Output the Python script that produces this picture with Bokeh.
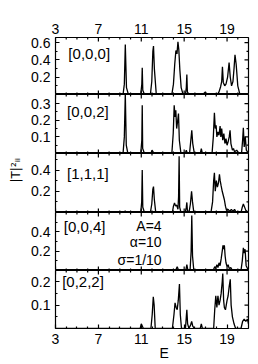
import math
from bokeh.plotting import figure
from bokeh.layouts import column
from bokeh.models import Range1d, LinearAxis, FixedTicker, Label, Title
from bokeh.embed import file_html
from bokeh.resources import INLINE

# ---------------- data ----------------
x_ticks = [3, 7, 11, 15, 19]
x_minor = [4, 5, 6, 8, 9, 10, 12, 13, 14, 16, 17, 18, 20]

panel_labels = ["[0,0,0]", "[0,0,2]", "[1,1,1]", "[0,0,4]", "[0,2,2]"]

p000 = [(3.0, 0), (9.3, 0), (9.42, 0.12), (9.51, 0.58), (9.62, 0.08), (9.8, 0),
        (10.95, 0), (11.05, 0.12), (11.09, 0.31), (11.14, 0.05), (11.3, 0),
        (11.85, 0), (11.98, 0.15), (12.08, 0.5), (12.14, 0.56), (12.22, 0.3), (12.4, 0),
        (13.85, 0), (14.0, 0.12), (14.12, 0.35), (14.23, 0.51), (14.33, 0.47), (14.42, 0.61),
        (14.5, 0.52), (14.6, 0.28), (14.72, 0.08), (14.9, 0),
        (15.12, 0), (15.2, 0.08), (15.25, 0.23), (15.3, 0.03), (15.45, 0),
        (16.75, 0), (16.9, 0.02), (16.98, 0.03), (17.1, 0),
        (18.1, 0), (18.25, 0.03), (18.4, 0.09), (18.5, 0.15), (18.57, 0.32), (18.65, 0.14),
        (18.78, 0.1), (18.9, 0.12), (19.05, 0.2), (19.19, 0.37), (19.3, 0.2), (19.42, 0.1),
        (19.55, 0.15), (19.65, 0.3), (19.74, 0.46), (19.85, 0.35), (20.0, 0.1), (20.2, 0), (21.0, 0)]

p002 = [(3.0, 0), (9.3, 0), (9.42, 0.1), (9.51, 0.36), (9.6, 0.05), (9.75, 0),
        (10.95, 0), (11.05, 0.08), (11.09, 0.29), (11.13, 0.03), (11.3, 0),
        (11.9, 0), (12.0, 0.02), (12.1, 0.01), (12.2, 0),
        (13.85, 0), (13.98, 0.12), (14.07, 0.29), (14.15, 0.22), (14.22, 0.26), (14.3, 0.15),
        (14.4, 0.2), (14.47, 0.24), (14.55, 0.08), (14.7, 0),
        (15.1, 0), (15.2, 0.02), (15.3, 0), (15.5, 0), (15.62, 0.08), (15.71, 0.14),
        (15.8, 0.06), (15.95, 0), (16.5, 0), (16.6, 0.03), (16.7, 0),
        (17.6, 0), (17.72, 0.1), (17.82, 0.245), (17.9, 0.15), (17.98, 0.17), (18.05, 0.1),
        (18.15, 0.13), (18.25, 0.11), (18.35, 0.165), (18.42, 0.1), (18.5, 0.15), (18.6, 0.08),
        (18.7, 0.12), (18.8, 0.06), (18.9, 0.09), (19.0, 0.05), (19.1, 0.07), (19.2, 0.1),
        (19.28, 0.14), (19.36, 0.06), (19.5, 0.02), (19.6, 0.03), (19.7, 0.01), (19.9, 0.02),
        (20.1, 0), (20.35, 0), (20.45, 0.08), (20.52, 0.155), (20.6, 0.04), (20.7, 0.1),
        (20.8, 0.02), (21.0, 0)]

p111 = [(3.0, 0), (9.4, 0), (9.5, 0.015), (9.6, 0),
        (10.95, 0), (11.04, 0.1), (11.09, 0.4), (11.14, 0.05), (11.3, 0),
        (11.85, 0), (11.98, 0.08), (12.08, 0.22), (12.14, 0.244), (12.22, 0.12), (12.35, 0),
        (13.9, 0), (14.0, 0.06), (14.1, 0.09), (14.2, 0.06), (14.3, 0.07), (14.42, 0.03),
        (14.48, 0.15), (14.53, 0.53), (14.58, 0.05), (14.7, 0),
        (15.1, 0), (15.2, 0.05), (15.25, 0.095), (15.3, 0.02), (15.45, 0),
        (15.58, 0.08), (15.69, 0.2), (15.78, 0.1), (15.9, 0),
        (17.5, 0), (17.65, 0.1), (17.75, 0.3), (17.82, 0.375), (17.9, 0.2), (18.0, 0.3),
        (18.1, 0.24), (18.2, 0.28), (18.29, 0.36), (18.36, 0.3), (18.45, 0.25), (18.55, 0.2),
        (18.65, 0.16), (18.75, 0.12), (18.85, 0.06), (18.95, 0.02), (19.1, 0.03), (19.25, 0.01),
        (19.4, 0.03), (19.55, 0.01), (19.7, 0.03), (19.85, 0),
        (20.3, 0), (20.42, 0.05), (20.52, 0.08), (20.6, 0.06), (20.75, 0.02), (21.0, 0)]

p004 = [(3.0, 0), (14.2, 0), (14.35, 0.04), (14.45, 0.01), (14.6, 0),
        (15.15, 0), (15.25, 0.06), (15.35, 0), (15.55, 0), (15.65, 0.2), (15.71, 0.57),
        (15.78, 0.15), (15.9, 0),
        (17.7, 0), (17.85, 0.04), (17.95, 0.02), (18.05, 0.06), (18.15, 0.03), (18.25, 0.08),
        (18.35, 0.05), (18.45, 0.12), (18.55, 0.2), (18.62, 0.26), (18.7, 0.22), (18.75, 0.26),
        (18.82, 0.15), (18.9, 0.08), (19.0, 0.04), (19.1, 0.06), (19.2, 0.02), (19.35, 0.03),
        (19.5, 0), (20.3, 0), (20.42, 0.1), (20.52, 0.235), (20.6, 0.18), (20.68, 0.22),
        (20.78, 0.05), (21.0, 0)]

p022 = [(3.0, 0), (10.9, 0), (11.0, 0.02), (11.1, 0.01), (11.2, 0),
        (11.9, 0), (12.02, 0.06), (12.12, 0.136), (12.2, 0.1), (12.3, 0),
        (13.9, 0), (14.05, 0.06), (14.15, 0.11), (14.25, 0.09), (14.35, 0.08), (14.45, 0.12),
        (14.56, 0.19), (14.64, 0.06), (14.75, 0),
        (15.12, 0), (15.2, 0.05), (15.25, 0.08), (15.32, 0.02), (15.45, 0),
        (15.6, 0.015), (15.7, 0.03), (15.8, 0.01), (15.95, 0), (16.5, 0), (16.6, 0.02), (16.7, 0),
        (17.75, 0), (17.85, 0.08), (17.95, 0.14), (18.05, 0.09), (18.15, 0.14), (18.25, 0.1),
        (18.35, 0.12), (18.45, 0.15), (18.55, 0.2), (18.6, 0.235), (18.68, 0.12), (18.75, 0.09),
        (18.85, 0.08), (19.0, 0.12), (19.1, 0.14), (19.2, 0.18), (19.3, 0.21), (19.38, 0.1),
        (19.5, 0.05), (19.65, 0.02), (19.8, 0), (20.3, 0), (20.45, 0.03), (20.6, 0.04),
        (20.75, 0.03), (20.9, 0.04), (21.0, 0.02)]

series = [p000, p002, p111, p004, p022]

y_ranges = [(0, 0.66), (0, 0.355), (0, 0.556), (0, 0.6), (0, 0.248)]
y_ticks = [[0.2, 0.4, 0.6], [0.1, 0.2, 0.3], [0.2, 0.4], [0.2, 0.4], [0.1, 0.2]]
y_minor = [[0.1, 0.3, 0.5], [0.05, 0.15, 0.25], [0.1, 0.3, 0.5], [0.1, 0.3, 0.5], [0.05, 0.15]]
label_pos = [(4.2, 0.48), (4.08, 0.25), (4.08, 0.37), (3.77, 0.46), (3.62, 0.2)]
params = ["A=4", "\u03b1=10", "\u03c3=1/10"]
params_y = [0.46, 0.29, 0.11]
y_title = "|T|\u00b2\u1d62\u1d62"
x_title = "E"

# ---------------- layout ----------------
FONT = "Liberation Sans"
FS = "14px"
heights = [94, 59, 59, 58, 92]
tops = [37, 0, 0, 0, 0]
bottoms = [0, 0, 0, 0, 34]

xr = Range1d(3, 21)


def style_axis(ax, standoff=5, ticks=True):
    ax.axis_line_color = None
    ax.major_tick_in = 4 if ticks else 0
    ax.major_tick_out = 0
    ax.minor_tick_in = 2 if ticks else 0
    ax.minor_tick_out = 0
    ax.major_tick_line_color = "black" if ticks else None
    ax.minor_tick_line_color = "black" if ticks else None
    ax.major_tick_line_width = 1.2
    ax.minor_tick_line_width = 1.2
    ax.major_label_text_font = FONT
    ax.major_label_text_font_size = FS
    ax.major_label_text_color = "black"
    ax.major_label_standoff = standoff


def mirror_ticks(p, xs, ys, size, angle):
    p.scatter(xs, ys, marker="dash", size=size, angle=angle,
              line_color="black", line_width=1.2)


figs = []
for i in range(5):
    y0, y1 = y_ranges[i]
    p = figure(width=258, height=heights[i], x_range=xr, y_range=Range1d(y0, y1),
               output_backend="svg", toolbar_location=None, title_location=None,
               x_axis_location=None, y_axis_location=None,
               min_border_left=55, min_border_right=10,
               min_border_top=tops[i], min_border_bottom=bottoms[i])
    p.grid.visible = False
    p.outline_line_color = "black"
    p.outline_line_width = 1.2
    p.background_fill_color = "white"
    p.border_fill_color = "white"

    xt = FixedTicker(ticks=x_ticks, minor_ticks=x_minor)
    yt = FixedTicker(ticks=y_ticks[i], minor_ticks=y_minor[i])

    left = LinearAxis(ticker=yt)
    style_axis(left)
    p.add_layout(left, "left")

    # mirrored ticks on the right and top
    mirror_ticks(p, [21] * len(y_ticks[i]), y_ticks[i], 8, 0)
    mirror_ticks(p, [21] * len(y_minor[i]), y_minor[i], 4, 0)
    mirror_ticks(p, x_ticks, [y1] * len(x_ticks), 8, math.pi / 2)
    mirror_ticks(p, x_minor, [y1] * len(x_minor), 4, math.pi / 2)

    if i == 0:
        above = LinearAxis(ticker=xt)
        style_axis(above, standoff=4, ticks=False)
        p.add_layout(above, "above")
    if i == 4:
        below = LinearAxis(ticker=xt)
        style_axis(below)
        p.add_layout(below, "below")
        p.add_layout(Title(text=x_title, align="left", offset=104, standoff=-8,
                           text_font=FONT, text_font_size="14px", text_font_style="normal",
                           text_color="black"), "below")
    else:
        mirror_ticks(p, x_ticks, [y0] * len(x_ticks), 8, math.pi / 2)
        mirror_ticks(p, x_minor, [y0] * len(x_minor), 4, math.pi / 2)

    if i == 2:
        p.add_layout(Title(text=y_title, align="left", offset=30, standoff=11,
                           text_font="DejaVu Sans", text_font_size="12px",
                           text_font_style="normal", text_color="black"), "left")

    es = [pt[0] for pt in series[i]]
    ts = [pt[1] for pt in series[i]]
    p.line(es, ts, line_color="black", line_width=1.3)

    lx, ly = label_pos[i]
    p.add_layout(Label(x=lx, y=ly, text=panel_labels[i], text_font=FONT, text_font_size="15px",
                       text_baseline="middle", text_align="left", text_color="black"))
    if i == 3:
        for t, yy in zip(params, params_y):
            p.add_layout(Label(x=12.9, y=yy, text=t, text_font=FONT, text_font_size=FS,
                               text_baseline="middle", text_align="right", text_color="black"))
    figs.append(p)

layout = column(*figs, spacing=0)

open("out.html", "w").write(file_html(layout, INLINE))
